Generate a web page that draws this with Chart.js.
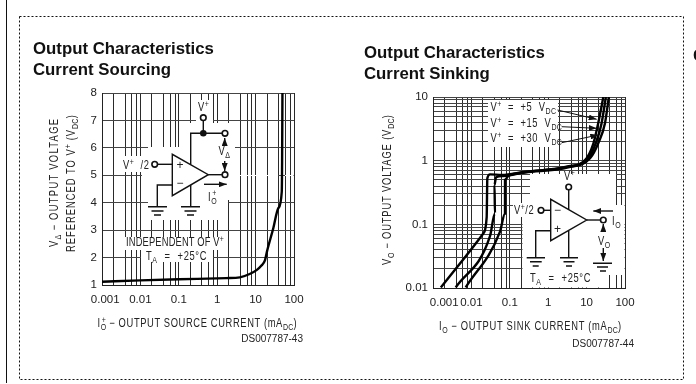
<!DOCTYPE html>
<html>
<head>
<meta charset="utf-8">
<script src="https://cdn.jsdelivr.net/npm/chart.js@4"></script>
<style>
  html,body{margin:0;padding:0;background:#fff;width:696px;height:384px;overflow:hidden}
  canvas,svg{position:absolute;left:0;top:0}
  svg text{font-family:"Liberation Sans",Arial,sans-serif;font-size:12px;fill:#222;letter-spacing:.8px}
  svg text tspan.s{font-size:9px;letter-spacing:.3px}
  svg .head{font-size:16.8px;font-weight:700;fill:#111;letter-spacing:0}
  svg .code{font-size:10px;letter-spacing:0}
  svg .wire{stroke:#111;stroke-width:1.4;fill:none}
  svg .pin{stroke:#111;stroke-width:1.6;fill:#fff}
  svg .mask{fill:#fff;stroke:none}
  svg .wide{word-spacing:4px}
</style>
</head>
<body>
<canvas id="sourceChart" width="696" height="384"></canvas>
<canvas id="sinkChart" width="696" height="384"></canvas>

<svg width="696" height="384" viewBox="0 0 696 384">
  <defs>
    <marker id="tip" viewBox="0 0 8 6" refX="8" refY="3" markerWidth="8" markerHeight="6" markerUnits="userSpaceOnUse" orient="auto">
      <path d="M0 0L8 3L0 6z" fill="#111"/>
    </marker>
  </defs>

  <!-- page frame -->
  <line x1="6.5" y1="0" x2="6.5" y2="383" stroke="#111" stroke-width="1"/>
  <rect x="19.5" y="16.5" width="664" height="363" fill="none" stroke="#111" stroke-width="1" stroke-dasharray="2 2"/>
  <text class="head" x="693" y="61">C</text>

  <text class="head" x="33" y="53.5">Output Characteristics</text>
  <text class="head" x="33" y="75">Current Sourcing</text>
  <text class="head" x="364" y="57.5">Output Characteristics</text>
  <text class="head" x="364" y="78.5">Current Sinking</text>

  <!-- left schematic masks -->
  <rect class="mask" x="148" y="147" width="80" height="73"/>
  <rect class="mask" x="228" y="147" width="7" height="53"/>
  <rect class="mask" x="121" y="156" width="27" height="16"/>
  <rect class="mask" x="190" y="123" width="45" height="24"/>
  <rect class="mask" x="196" y="100" width="17" height="24"/>
  <rect class="mask" x="123" y="237" width="102" height="13"/>
  <rect class="mask" x="141" y="250" width="72" height="12"/>
  <!-- the 5 V rule is not printed either side of the circuit -->
  <rect class="mask" x="142" y="175" width="6" height="1"/>
  <rect class="mask" x="235" y="175" width="43" height="1"/>
  <rect class="mask" x="285" y="175" width="8.5" height="1"/>

  <!-- left schematic -->
  <path class="wire" d="M172.3 154.3V195.7L208.3 174.7Z"/>
  <path class="wire" d="M157.7 164.3H172.3"/>
  <path class="wire" d="M172.3 185H157.3V206.7"/>
  <path class="wire" d="M190.7 164.5V133.3H222"/>
  <path class="wire" d="M190.7 185V206.7"/>
  <path class="wire" d="M203.3 133.3V120.7"/>
  <path class="wire" d="M208.3 174.7H222"/>
  <path class="wire" d="M148 206.7H167M151.5 211H163.5M154 215H161"/>
  <path class="wire" d="M181 206.7H200M184.5 211H196.5M187 215H194"/>
  <circle class="pin" cx="154.7" cy="164.3" r="2.8"/>
  <circle class="pin" cx="203.3" cy="117.7" r="2.8"/>
  <circle class="pin" cx="225" cy="133.3" r="2.8"/>
  <circle class="pin" cx="225" cy="174.7" r="2.8"/>
  <circle cx="203.3" cy="133.3" r="3.3" fill="#111"/>
  <path class="wire" d="M204 184.3H226.7" marker-end="url(#tip)"/>
  <path class="wire" d="M224.7 146V138" marker-end="url(#tip)"/>
  <path class="wire" d="M224.7 161V171" marker-end="url(#tip)"/>
  <text x="176.5" y="168.5">+</text>
  <text x="176.5" y="186.5">−</text>
  <text transform="translate(123,168.5) scale(.78,1)" class="wide">V<tspan class="s" dy="-4">+</tspan><tspan dy="4"> /2</tspan></text>
  <text transform="translate(198,110.5) scale(.78,1)">V<tspan class="s" dy="-4">+</tspan></text>
  <text transform="translate(218.5,155) scale(.78,1)">V<tspan class="s" dy="3">Δ</tspan></text>
  <text transform="translate(208,201) scale(.78,1)">I<tspan class="s" dy="3">O</tspan><tspan class="s" dy="-8" dx="-6">+</tspan></text>
  <text transform="translate(126,246) scale(.78,1)" style="letter-spacing:.2px">INDEPENDENT OF V<tspan class="s" dy="-4">+</tspan></text>
  <text transform="translate(146,260) scale(.78,1)" style="word-spacing:5px">T<tspan class="s" dy="3">A</tspan><tspan dy="-3"> = +25°C</tspan></text>

  <!-- left axis titles -->
  <text transform="translate(58,247) rotate(-90) scale(.78,1)" style="letter-spacing:1.7px">V<tspan class="s" dy="3">Δ</tspan><tspan dy="-3"> − OUTPUT VOLTAGE</tspan></text>
  <text transform="translate(75,252) rotate(-90) scale(.78,1)" style="letter-spacing:1.3px">REFERENCED TO V<tspan class="s" dy="-4">+</tspan><tspan dy="4"> (V</tspan><tspan class="s" dy="3">DC</tspan><tspan dy="-3">)</tspan></text>
  <text transform="translate(97.5,326.5) scale(.78,1)">I<tspan class="s" dy="3">O</tspan><tspan class="s" dy="-7" dx="-6">+</tspan><tspan dy="4"> − OUTPUT SOURCE CURRENT (mA</tspan><tspan class="s" dy="3">DC</tspan><tspan dy="-3">)</tspan></text>
  <text class="code" x="303" y="341.5" text-anchor="end">DS007787-43</text>

  <!-- right schematic masks -->
  <rect class="mask" x="488" y="100" width="70" height="47"/>
  <rect class="mask" x="530" y="174" width="86" height="31"/>
  <rect class="mask" x="522.5" y="205" width="85.5" height="82.5"/>
  <rect class="mask" x="608" y="205" width="16.5" height="70"/>
  <rect class="mask" x="513" y="203" width="10" height="14"/>

  <!-- right schematic -->
  <path class="wire" d="M550.7 199.3V240.7L586.7 220Z"/>
  <path class="wire" d="M544 210.3H550.7"/>
  <path class="wire" d="M550.7 230.7H535.7V257.7"/>
  <path class="wire" d="M568.7 190V209.5M568.7 231V257.7"/>
  <path class="wire" d="M586.7 220H600.3"/>
  <path class="wire" d="M526.7 257.7H545M530 261.7H541.7M532.7 266H538.7"/>
  <path class="wire" d="M560 257.7H578M563.5 261.7H574.5M566 266H572"/>
  <path class="wire" d="M593 263.3H612M597 267H608M600 271H606"/>
  <path class="wire" d="M603.3 248V261" marker-end="url(#tip)"/>
  <path class="wire" d="M603.3 232V224" marker-end="url(#tip)"/>
  <path class="wire" d="M613 211H593.3" marker-end="url(#tip)"/>
  <circle class="pin" cx="541" cy="210.3" r="2.8"/>
  <circle class="pin" cx="568.7" cy="187" r="2.8"/>
  <circle class="pin" cx="603.3" cy="220" r="2.8"/>
  <text x="554" y="213.5">−</text>
  <text x="554" y="232.5">+</text>
  <text transform="translate(514,213.5) scale(.78,1)">V<tspan class="s" dy="-4">+</tspan><tspan dy="4">/2</tspan></text>
  <text transform="translate(564,180) scale(.78,1)">V<tspan class="s" dy="-4">+</tspan></text>
  <text transform="translate(598,245) scale(.78,1)">V<tspan class="s" dy="3">O</tspan></text>
  <text transform="translate(612,225) scale(.78,1)">I<tspan class="s" dy="3">O</tspan></text>
  <text transform="translate(530,281.5) scale(.78,1)" style="word-spacing:5px">T<tspan class="s" dy="3">A</tspan><tspan dy="-3"> = +25°C</tspan></text>

  <!-- right legend -->
  <text transform="translate(490.5,111) scale(.78,1)" class="wide">V<tspan class="s" dy="-4">+</tspan><tspan dy="4"> = +5 V</tspan><tspan class="s" dy="3">DC</tspan></text>
  <text transform="translate(490.5,126.5) scale(.78,1)" class="wide">V<tspan class="s" dy="-4">+</tspan><tspan dy="4"> = +15 V</tspan><tspan class="s" dy="3">DC</tspan></text>
  <text transform="translate(490.5,142) scale(.78,1)" class="wide">V<tspan class="s" dy="-4">+</tspan><tspan dy="4"> = +30 V</tspan><tspan class="s" dy="3">DC</tspan></text>
  <path class="wire" style="stroke-width:1" d="M557.5 110L596.7 119.3" marker-end="url(#tip)"/>
  <path class="wire" style="stroke-width:1" d="M561.7 126.7L596.7 128.3" marker-end="url(#tip)"/>
  <path class="wire" style="stroke-width:1" d="M561.7 142.7L598.3 135" marker-end="url(#tip)"/>

  <!-- right axis titles -->
  <text transform="translate(391,265) rotate(-90) scale(.78,1)" style="letter-spacing:1.1px">V<tspan class="s" dy="3">O</tspan><tspan dy="-3"> − OUTPUT VOLTAGE (V</tspan><tspan class="s" dy="3">DC</tspan><tspan dy="-3">)</tspan></text>
  <text transform="translate(439,330) scale(.78,1)" style="letter-spacing:.9px">I<tspan class="s" dy="3">O</tspan><tspan dy="-3"> − OUTPUT SINK CURRENT (mA</tspan><tspan class="s" dy="3">DC</tspan><tspan dy="-3">)</tspan></text>
  <text class="code" x="634" y="346.5" text-anchor="end">DS007787-44</text>
</svg>

<script>
// values
const sourceCurrent = [0.001,0.01,0.1,1,1.7,3.9,7,10.8,14,17.5,20,29,39,48,49,50];
const sourceVoltage = [1.12,1.17,1.21,1.24,1.25,1.28,1.4,1.55,1.7,1.9,2.25,3.08,3.8,4.4,5.5,8];

const sink5Current = [0.0016,0.0204,0.025,0.026,0.0305,0.0617,0.25,2.75,9.1,15,20,27.3];
const sink5Voltage = [0.0102,0.072,0.13,0.53,0.61,0.595,0.67,0.785,1.02,1.86,3.85,10];
const sink15Current = [0.0039,0.0305,0.041,0.04,0.0437,0.0676,0.25,3,11,18,24.5,31.8];
const sink15Voltage = [0.0102,0.065,0.148,0.417,0.55,0.575,0.66,0.805,1.09,2,3.85,10];
const sink30Current = [0.0071,0.0556,0.075,0.075,0.091,0.25,3.3,12.3,21,30,38];
const sink30Voltage = [0.0102,0.077,0.148,0.5,0.575,0.65,0.785,1.09,2,3.85,10];

const xDecades = [0.001,0.01,0.1,1,10,100];
const xMinorSteps = [2,4,6,8];
const xLabels = ["0.001","0.01","0.1","1","10","100"];
const sourceYTicks = [1,2,3,4,5,6,7,8];
const sinkYDecades = [0.01,0.1,1,10];
const sinkYMinorSteps = [2,3,4,5,6,7,8,9];
const sinkYLabels = ["0.01","0.1","1","10"];

const ink = "#222";
const tickFont = {family:"'Liberation Sans', Arial, sans-serif", size:11.5};

function logTicks(decades, steps){
  const out = [];
  decades.forEach((d,i)=>{
    out.push({value:d});
    if(i < decades.length-1) steps.forEach(s=>out.push({value:+(d*s).toPrecision(3)}));
  });
  return out;
}

function pairs(xs, ys){
  return xs.map((x,i)=>({x:x,y:ys[i]}));
}

function curve(xs, ys){
  return {
    data:pairs(xs,ys),
    borderColor:"#000",
    borderWidth:2.4,
    pointRadius:0,
    cubicInterpolationMode:"monotone"
  };
}

function xAxis(shift){
  return {
    type:"logarithmic",
    min:0.001,
    max:100,
    afterBuildTicks:s=>{ s.ticks = logTicks(xDecades,xMinorSteps); },
    afterFit:s=>{ s.height = 22; },
    grid:{color:"#2a2a2a",lineWidth:1,drawTicks:false},
    border:{color:ink},
    ticks:{
      autoSkip:false,
      maxRotation:0,
      padding:8,
      color:ink,
      font:tickFont,
      callback:v=>{
        const i = xDecades.indexOf(v);
        if(i<0) return "";
        // first label sits to the right of its grid line
        return i===0 ? " ".repeat(shift)+xLabels[i] : xLabels[i];
      }
    }
  };
}

new Chart(document.getElementById("sourceChart"),{
  type:"line",
  data:{datasets:[curve(sourceCurrent,sourceVoltage)]},
  options:{
    responsive:false,
    animation:false,
    layout:{padding:{left:72,top:93,right:402,bottom:77}},
    plugins:{legend:{display:false},tooltip:{enabled:false}},
    scales:{
      x:xAxis(2),
      y:{
        min:1,
        max:8,
        afterBuildTicks:s=>{ s.ticks = sourceYTicks.map(v=>({value:v})); },
        afterFit:s=>{ s.width = 30; },
        grid:{color:"#444",lineWidth:1,drawTicks:false},
        border:{color:ink},
        ticks:{padding:5,color:ink,font:tickFont}
      }
    }
  }
});

new Chart(document.getElementById("sinkChart"),{
  type:"line",
  data:{datasets:[
    curve(sink5Current,sink5Voltage),
    curve(sink15Current,sink15Voltage),
    curve(sink30Current,sink30Voltage)
  ]},
  options:{
    responsive:false,
    animation:false,
    layout:{padding:{left:393,top:97,right:71,bottom:74}},
    plugins:{legend:{display:false},tooltip:{enabled:false}},
    scales:{
      x:xAxis(7),
      y:{
        type:"logarithmic",
        min:0.01,
        max:10,
        afterBuildTicks:s=>{ s.ticks = logTicks(sinkYDecades,sinkYMinorSteps); },
        afterFit:s=>{ s.width = 40; },
        grid:{color:"#444",lineWidth:1,drawTicks:false},
        border:{color:ink},
        ticks:{
          autoSkip:false,
          padding:5,
          color:ink,
          font:tickFont,
          callback:v=>{
            const i = sinkYDecades.indexOf(v);
            return i<0 ? "" : sinkYLabels[i];
          }
        }
      }
    }
  }
});
</script>
</body>
</html>
